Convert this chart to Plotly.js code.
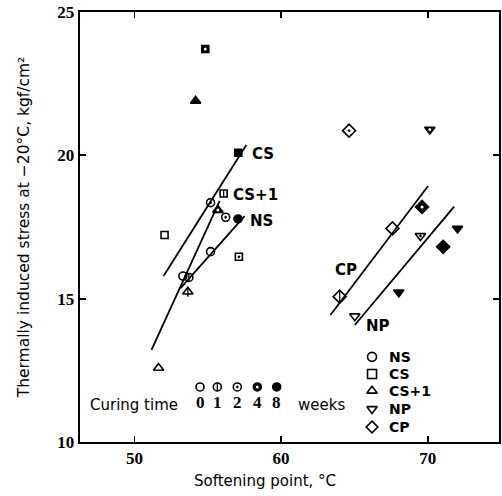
<!DOCTYPE html>
<html>
<head>
<meta charset="utf-8">
<script src="https://cdn.plot.ly/plotly-3.0.1.min.js"></script>
<style>html,body{margin:0;padding:0;background:#fff;}#chart{width:502px;height:496px;}</style>
</head>
<body>
<div id="chart"></div>
<script>
// ---- data ----
const nsX = [53.30, 53.71, 55.19, 56.22, 57.06, 55.19];
const nsY = [15.79, 15.74, 16.64, 17.84, 17.78, 18.35];
const nsWeeks = [0, 1, 0, 2, 8, 2];

const csX = [52.05, 56.08, 57.12, 54.83, 57.08];
const csY = [17.22, 18.67, 16.46, 23.71, 20.09];
const csWeeks = [0, 1, 2, 4, 8];

const cs1X = [51.64, 53.64, 55.69, 54.17];
const cs1Y = [12.58, 15.24, 18.09, 21.90];
const cs1Weeks = [0, 1, 4, 8];

const npX = [65.03, 69.51, 70.15, 68.03, 72.04];
const npY = [14.39, 17.19, 20.90, 15.22, 17.45];
const npWeeks = [0, 2, 4, 8, 8];

const cpX = [64.00, 64.64, 67.60, 69.62, 71.06];
const cpY = [15.07, 20.86, 17.45, 18.20, 16.81];
const cpWeeks = [1, 2, 0, 4, 8];

// regression lines (end points)
const lineCSX = [51.98, 57.63];   const lineCSY = [15.79, 20.36];
const lineCS1X = [51.16, 55.81];  const lineCS1Y = [13.21, 18.41];
const lineNSX = [53.14, 57.51];   const lineNSY = [15.37, 17.88];
const lineCPX = [63.37, 70.03];   const lineCPY = [14.43, 18.93];
const lineNPX = [65.03, 71.81];   const lineNPY = [14.08, 18.21];

const seriesNames = ['NS', 'CS', 'CS+1', 'NP', 'CP'];
const curingWeeks = ['0', '1', '2', '4', '8'];
const xTicks = [50, 60, 70];
const yTicks = [10, 15, 20, 25];

// ---- styling helpers ----
const BOLD = 'DejaVu Sans';
const REG = 'DejaVu Sans';
const NUM = 'Liberation Sans Narrow';

function markerTraces(xs, ys, weeks, base, size, name) {
  const sym = weeks.map(w => (w === 0 || w === 1) ? base + '-open' : (w === 2 ? base + '-open-dot' : base));
  const traces = [{
    type: 'scatter', mode: 'markers', x: xs, y: ys, name: name, showlegend: false,
    marker: { symbol: sym, size: size, color: 'black', line: { color: 'black', width: 1.6 } },
    hoverinfo: 'skip'
  }];
  const oneX = [], oneY = [], fourX = [], fourY = [];
  weeks.forEach((w, i) => {
    if (w === 1) { oneX.push(xs[i]); oneY.push(ys[i]); }
    if (w === 4) { fourX.push(xs[i]); fourY.push(ys[i]); }
  });
  if (oneX.length) traces.push({
    type: 'scatter', mode: 'markers', x: oneX, y: oneY, showlegend: false, hoverinfo: 'skip',
    marker: { symbol: 'line-ns-open', size: size - 2, color: 'black', line: { color: 'black', width: 1.3 } }
  });
  if (fourX.length) traces.push({
    type: 'scatter', mode: 'markers', x: fourX, y: fourY, showlegend: false, hoverinfo: 'skip',
    marker: { symbol: 'circle', size: 3, color: 'white', line: { width: 0 } }
  });
  return traces;
}
function lineTrace(xs, ys) {
  return { type: 'scatter', mode: 'lines', x: xs, y: ys, showlegend: false, hoverinfo: 'skip',
           line: { color: 'black', width: 1.8 } };
}

let traces = [];
[[lineCSX, lineCSY], [lineCS1X, lineCS1Y], [lineNSX, lineNSY], [lineCPX, lineCPY], [lineNPX, lineNPY]]
  .forEach(l => traces.push(lineTrace(l[0], l[1])));
traces = traces.concat(
  markerTraces(nsX, nsY, nsWeeks, 'circle', 8, 'NS'),
  markerTraces(csX, csY, csWeeks, 'square', 7, 'CS'),
  markerTraces(cs1X, cs1Y, cs1Weeks, 'triangle-up', 9, 'CS+1'),
  markerTraces(npX, npY, npWeeks, 'triangle-down', 9, 'NP'),
  markerTraces(cpX, cpY, cpWeeks, 'diamond', 10, 'CP')
);

// ---- keys (symbol key and curing-time key) on an overlay 0..1 axis ----
const keySymbols = ['circle-open', 'square-open', 'triangle-up-open', 'triangle-down-open', 'diamond-open'];
const keyYs = [0.198, 0.158, 0.119, 0.077, 0.035];
traces.push({
  type: 'scatter', mode: 'markers', xaxis: 'x2', yaxis: 'y2', showlegend: false, hoverinfo: 'skip',
  x: keyYs.map(() => 0.697), y: keyYs,
  marker: { symbol: keySymbols, size: 9, color: 'black', line: { color: 'black', width: 1.6 } }
});
const cureXs = [0.2864, 0.3277, 0.3754, 0.4232, 0.4695];
const cureSym = ['circle-open', 'circle-open', 'circle-open-dot', 'circle', 'circle'];
traces.push({
  type: 'scatter', mode: 'markers', xaxis: 'x2', yaxis: 'y2', showlegend: false, hoverinfo: 'skip',
  x: cureXs, y: cureXs.map(() => 0.128),
  marker: { symbol: cureSym, size: 8, color: 'black', line: { color: 'black', width: 1.6 } }
});
traces.push({
  type: 'scatter', mode: 'markers', xaxis: 'x2', yaxis: 'y2', showlegend: false, hoverinfo: 'skip',
  x: [cureXs[1]], y: [0.128],
  marker: { symbol: 'line-ns-open', size: 6, color: 'black', line: { color: 'black', width: 1.3 } }
});
traces.push({
  type: 'scatter', mode: 'markers', xaxis: 'x2', yaxis: 'y2', showlegend: false, hoverinfo: 'skip',
  x: [cureXs[3]], y: [0.128],
  marker: { symbol: 'circle', size: 3, color: 'white', line: { width: 0 } }
});

const annotations = [];
seriesNames.forEach((n, i) => annotations.push({
  xref: 'x2', yref: 'y2', x: 0.733, y: keyYs[i], text: n, showarrow: false, xanchor: 'left', yanchor: 'middle',
  font: { family: BOLD, size: 14, color: 'black', weight: 'bold' }
}));
curingWeeks.forEach((w, i) => annotations.push({
  xref: 'x2', yref: 'y2', x: cureXs[i], y: 0.093, text: w, showarrow: false, xanchor: 'center', yanchor: 'middle',
  font: { family: NUM, size: 17, color: 'black', weight: 'bold' }
}));
annotations.push({ xref: 'x2', yref: 'y2', x: 0.019, y: 0.086, text: 'Curing time', showarrow: false,
  xanchor: 'left', yanchor: 'middle', font: { family: REG, size: 15, color: 'black' } });
annotations.push({ xref: 'x2', yref: 'y2', x: 0.516, y: 0.086, text: 'weeks', showarrow: false,
  xanchor: 'left', yanchor: 'middle', font: { family: REG, size: 15, color: 'black' } });
// x-axis title, placed where the reference has it (left of the plot centre)
annotations.push({ xref: 'paper', yref: 'paper', x: 0.4415, y: -0.0907, text: 'Softening point, °C', showarrow: false,
  xanchor: 'center', yanchor: 'middle', font: { family: REG, size: 15, color: 'black' } });
// line labels
const lineLabels = [
  ['CS', 57.86, 20.03, 'left'], ['CS+1', 56.6, 18.6, 'left'], ['NS', 57.74, 17.72, 'left'],
  ['CP', 64.41, 16.0, 'center'], ['NP', 66.6, 14.05, 'center']
];
lineLabels.forEach(l => annotations.push({
  xref: 'x', yref: 'y', x: l[1], y: l[2], text: l[0], showarrow: false, xanchor: l[3], yanchor: 'middle',
  font: { family: BOLD, size: 15, color: 'black', weight: 'bold' }
}));

const layout = {
  width: 502, height: 496,
  margin: { l: 80, r: 3, t: 12, b: 54 },
  paper_bgcolor: 'white', plot_bgcolor: 'white',
  showlegend: false,
  xaxis: {
    range: [46.28, 74.87], tickvals: xTicks, ticktext: xTicks.map(String),
    ticks: 'inside', ticklen: 6, tickwidth: 1.8, tickcolor: 'black',
    showline: true, linecolor: 'black', linewidth: 2, mirror: 'ticks',
    showgrid: false, zeroline: false,
    tickfont: { family: NUM, size: 17, color: 'black', weight: 'bold' },
    automargin: false
  },
  yaxis: {
    range: [10, 25], tickvals: yTicks, ticktext: yTicks.map(String),
    ticks: 'inside', ticklen: 6, tickwidth: 1.8, tickcolor: 'black',
    showline: true, linecolor: 'black', linewidth: 2.4, mirror: 'ticks',
    showgrid: false, zeroline: false,
    tickfont: { family: NUM, size: 17, color: 'black', weight: 'bold' },
    title: { text: 'Thermally induced stress at −20°C, kgf/cm²', font: { family: REG, size: 15.5, color: 'black' }, standoff: 24 },
    automargin: false
  },
  xaxis2: { overlaying: 'x', anchor: 'y2', range: [0, 1], visible: false, fixedrange: true },
  yaxis2: { overlaying: 'y', anchor: 'x2', range: [0, 1], visible: false, fixedrange: true },
  annotations: annotations
};

Plotly.newPlot('chart', traces, layout, { staticPlot: true, displayModeBar: false });
</script>
</body>
</html>
